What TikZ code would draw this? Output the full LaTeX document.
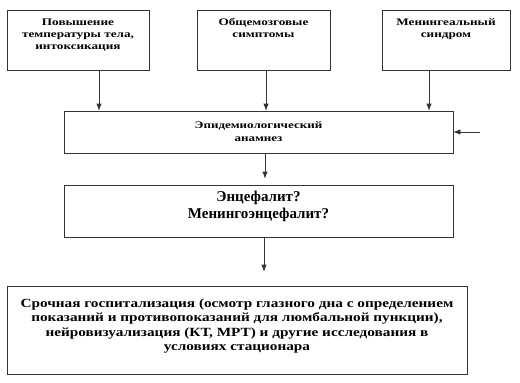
\documentclass[tikz,border=0pt]{standalone}
\usepackage{fontspec}
\setmainfont{Liberation Serif}
\usetikzlibrary{arrows.meta, positioning}

\begin{document}
\begin{tikzpicture}[x=1pt, y=-1pt,
      box/.style={draw=black!80, line width=0.8pt, inner sep=0pt},
      txt/.style={font=\bfseries\fontsize{10}{12}\selectfont\addfontfeature{FakeStretch=1.32},
                  align=center, inner sep=0pt},
      arr/.style={-{Latex[length=7pt,width=5.5pt]}, draw=black!80, line width=0.8pt}]

    \useasboundingbox (0,0) rectangle (520,383);

    % ===== top row =====
    \node[box, minimum width=142, minimum height=60] (fever) at (78,40) {};
    \node[txt, below=9pt of fever.north] (fevertxt) {Повышение\\температуры тела,\\интоксикация};

    \node[box, minimum width=133, minimum height=60] (brain) at (263.5,40) {};
    \node[txt, below=9pt of brain.north] (braintxt) {Общемозговые\\симптомы};

    \node[box, minimum width=128, minimum height=60] (mening) at (446,40) {};
    \node[txt, below=9pt of mening.north] (meningtxt) {Менингеальный\\синдром};

    % ===== anamnesis =====
    \node[box, minimum width=389, minimum height=42] (anamn) at (258.5,132) {};
    \node[txt, font=\bfseries\fontsize{10}{13}\selectfont\addfontfeature{FakeStretch=1.3},
          below=11pt of anamn.north] (anamntxt) {Эпидемиологический\\анамнез};

    % ===== diagnosis =====
    \node[box, minimum width=389, minimum height=52] (diag) at (258.5,211) {};
    \node[txt, font=\bfseries\fontsize{15}{17}\selectfont, below=6pt of diag.north] (diagtxt)
        {Энцефалит?\\Менингоэнцефалит?};

    % ===== hospital =====
    \node[box, minimum width=460, minimum height=88] (hosp) at (237,330) {};
    \node[txt, font=\bfseries\fontsize{12.5}{14.5}\selectfont\addfontfeature{FakeStretch=1.22},
          below=13pt of hosp.north] (hosptxt)
        {Срочная госпитализация (осмотр глазного дна с определением\\
         показаний и противопоказаний для люмбальной пункции),\\
         нейровизуализация (КТ, МРТ) и другие исследования в\\
         условиях стационара};

    % ===== connectors =====
    \draw[arr] ([xshift=21pt]fever.south) -- ([xshift=21pt]fever.south |- anamn.north);
    \draw[arr] ([xshift=2.5pt]brain.south) -- ([xshift=2.5pt]brain.south |- anamn.north);
    \draw[arr] ([xshift=-17pt]mening.south) -- ([xshift=-17pt]mening.south |- anamn.north);

    \coordinate (side) at (480,132);
    \draw[arr] (side) -- (anamn.east);

    \draw[arr, shorten >=6pt] ([xshift=6.5pt]anamn.south) -- ([xshift=6.5pt]anamn.south |- diag.north);
    \draw[arr, shorten >=14pt] ([xshift=5.5pt]diag.south) -- ([xshift=5.5pt]diag.south |- hosp.north);

\end{tikzpicture}
\end{document}
